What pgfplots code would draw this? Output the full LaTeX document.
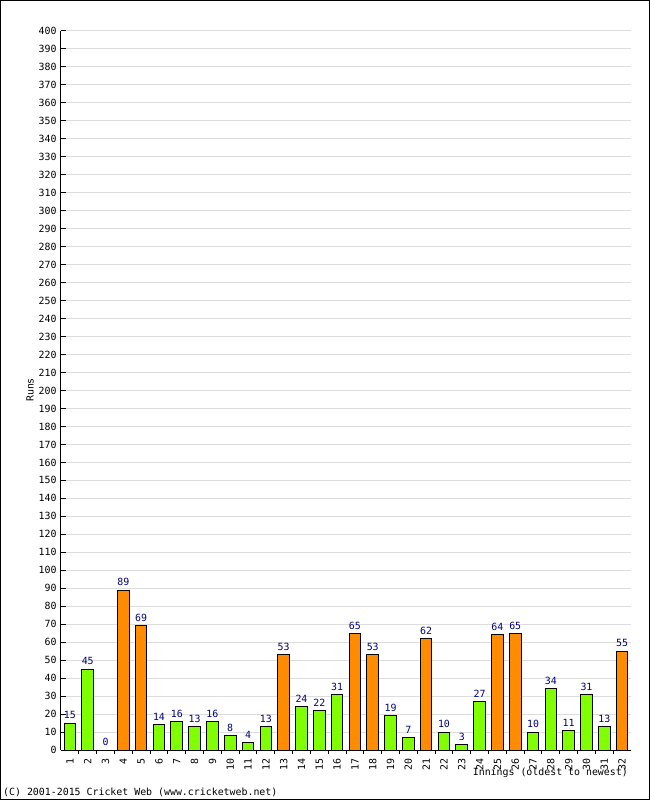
\documentclass[border=0pt]{standalone}
\usepackage{pgfplots}
\pgfplotsset{compat=1.18}
\usepackage{fontspec}
\setmainfont{DejaVu Sans Mono}
\definecolor{bargreen}{HTML}{80FF00}
\definecolor{barorange}{HTML}{FF8C00}
\definecolor{lblblue}{HTML}{000080}
\definecolor{gridgrey}{HTML}{DDDDDD}
\begin{document}
\begin{tikzpicture}[x=1bp,y=1bp]
\fontsize{9.9bp}{11bp}\selectfont
\begin{axis}[
  at={(0,0)}, anchor=south west,
  scale only axis, width=570bp, height=719bp,
  xmin=0.5, xmax=32.5, ymin=0, ymax=400,
  axis lines*=left,
  axis line style={black, line width=1bp},
  tick align=inside,
  xtick={1,...,32},
  minor xtick={1.5,2.5,...,31.5},
  major x tick style={draw=none},
  minor x tick style={black, line width=1bp},
  minor tick length=4bp,
  ytick={0,10,...,400},
  major y tick style={black, line width=1bp},
  major tick length=5bp,
  ymajorgrids, grid style={gridgrey, line width=1bp},
  /pgf/number format/assume math mode=true,
  ticklabel style={font=\fontsize{9.9bp}{11bp}\selectfont},
  xticklabel style={rotate=90, anchor=east},
  yticklabel style={anchor=east, xshift=-1bp},
  ybar, bar width=0.65, bar shift=0pt,
  nodes near coords,
  every node near coord/.append style={text=lblblue, font=\fontsize{9.9bp}{11bp}\selectfont, inner sep=3.5bp},
  clip=false,
]
\addplot[draw=black, line width=1bp, fill=bargreen] coordinates {
(1,15)(2,45)(3,0)(6,14)(7,16)(8,13)(9,16)(10,8)(11,4)(12,13)(14,24)(15,22)(16,31)(19,19)(20,7)(22,10)(23,3)(24,27)(27,10)(28,34)(29,11)(30,31)(31,13)
};
\addplot[draw=black, line width=1bp, fill=barorange] coordinates {
(4,89)(5,69)(13,53)(17,65)(18,53)(21,62)(25,64)(26,65)(32,55)
};
\end{axis}
\node[rotate=90, inner sep=0pt] at (-31bp,360bp) {Runs};
\node[anchor=east, inner sep=0pt] at (567bp,-23bp) {Innings (oldest to newest)};
\node[anchor=west, inner sep=0pt] at (-58bp,-42bp) {(C) 2001-2015 Cricket Web (www.cricketweb.net)};
\draw[black, line width=1bp] (-60.5bp,-49.5bp) rectangle (588.5bp,749.5bp);
\end{tikzpicture}
\end{document}
